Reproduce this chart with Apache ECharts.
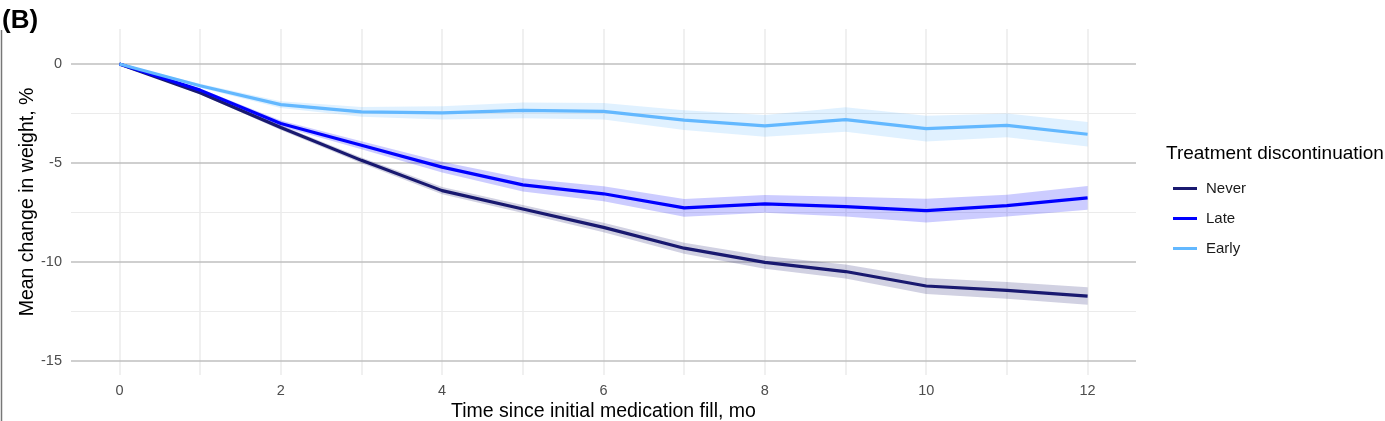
<!DOCTYPE html>
<html>
<head>
<meta charset="utf-8">
<script src="https://cdn.jsdelivr.net/npm/echarts@6/dist/echarts.min.js"></script>
<style>html,body{margin:0;padding:0;background:#fff;}#chart{width:1385px;height:421px;}</style>
</head>
<body>
<div id="chart"></div>
<script>
const months = [0,1,2,3,4,5,6,7,8,9,10,11,12];
const xTicks = [0,2,4,6,8,10,12];
const yTicks = [0,-5,-10,-15];
const yMinor = [-2.5,-7.5,-12.5];
const seriesNames = ['Never','Late','Early'];

const never   = [0,-1.45,-3.21,-4.87,-6.40,-7.33,-8.26,-9.31,-10.03,-10.49,-11.22,-11.44,-11.73];
const neverLo = [0,-1.53,-3.33,-5.02,-6.58,-7.53,-8.50,-9.59,-10.35,-10.84,-11.62,-11.86,-12.17];
const neverHi = [0,-1.37,-3.09,-4.72,-6.22,-7.13,-8.02,-9.03,-9.71,-10.14,-10.82,-11.02,-11.29];

const late    = [0,-1.32,-3.01,-4.11,-5.21,-6.11,-6.56,-7.27,-7.07,-7.21,-7.41,-7.16,-6.77];
const lateLo  = [0,-1.40,-3.16,-4.31,-5.48,-6.44,-6.94,-7.72,-7.52,-7.71,-8.01,-7.71,-7.37];
const lateHi  = [0,-1.24,-2.86,-3.91,-4.94,-5.78,-6.18,-6.82,-6.62,-6.71,-6.81,-6.61,-6.17];

const early   = [0,-1.10,-2.05,-2.42,-2.47,-2.34,-2.39,-2.84,-3.13,-2.81,-3.27,-3.10,-3.55];
const earlyLo = [0,-1.20,-2.22,-2.67,-2.80,-2.74,-2.81,-3.34,-3.68,-3.43,-3.92,-3.70,-4.17];
const earlyHi = [0,-1.00,-1.88,-2.17,-2.14,-1.94,-1.97,-2.34,-2.58,-2.19,-2.62,-2.50,-2.93];

const colors = {Never:'#191970', Late:'#0000FF', Early:'#63B8FF'};
const bandColors = {Never:'rgba(25,25,112,0.2)', Late:'rgba(0,0,255,0.2)', Early:'rgba(99,184,255,0.2)'};

const FONT = '"Liberation Sans", Arial, sans-serif';

function bandSeries(name, lo, hi) {
  return {
    type: 'custom',
    name: name + ' band',
    silent: true,
    z: 3,
    data: [[0, 0]],
    renderItem: function (params, api) {
      const pts = [];
      for (let i = 0; i < months.length; i++) pts.push(api.coord([months[i], hi[i]]));
      for (let i = months.length - 1; i >= 0; i--) pts.push(api.coord([months[i], lo[i]]));
      return { type: 'polygon', shape: { points: pts }, style: { fill: bandColors[name], stroke: null } };
    }
  };
}

function lineSeries(name, vals) {
  return {
    type: 'line',
    name: name,
    z: 4,
    data: months.map((m, i) => [m, vals[i]]),
    showSymbol: false,
    symbol: 'none',
    lineStyle: { color: colors[name], width: 3.2 },
    itemStyle: { color: colors[name] },
    emphasis: { disabled: true },
    animation: false
  };
}

const gridLines = []
  .concat(months.map(m => ({ xAxis: m, lineStyle: { color: '#ebebeb', width: 1.5, type: 'solid' } })))
  .concat(yMinor.map(v => ({ yAxis: v, lineStyle: { color: '#ebebeb', width: 1, type: 'solid' } })))
  .concat(yTicks.map(v => ({ yAxis: v, lineStyle: { color: '#bfbfbf', width: 1.5, type: 'solid' } })));

const chart = echarts.init(document.getElementById('chart'), null, { renderer: 'canvas' });
chart.setOption({
  animation: false,
  backgroundColor: '#ffffff',
  textStyle: { fontFamily: FONT },
  title: [{
    text: '(B)', left: -3, top: 3,
    textStyle: { fontSize: 26, fontWeight: 'bold', color: '#000', fontFamily: FONT }
  }],
  graphic: [
    { type: 'text', left: 1166, top: 144, style: { text: 'Treatment discontinuation', fontSize: 19, fill: '#000', fontFamily: FONT } },
    { type: 'line', shape: { x1: 1.5, y1: 30, x2: 1.5, y2: 421 }, style: { stroke: '#777', lineWidth: 1.5 } }
  ],
  legend: {
    data: seriesNames,
    orient: 'vertical',
    left: 1168, top: 176,
    icon: 'rect',
    itemWidth: 24, itemHeight: 3,
    itemGap: 15,
    textStyle: { fontSize: 15, color: '#1a1a1a', fontFamily: FONT, padding: [0, 0, 0, 4] },
    selectedMode: false
  },
  grid: { left: 71, right: 249, top: 29, bottom: 46, containLabel: false, outerBoundsMode: 'none' },
  xAxis: {
    type: 'value', min: -0.6, max: 12.6,
    name: 'Time since initial medication fill, mo', nameLocation: 'middle', nameGap: 27, nameMoveOverlap: false,
    nameTextStyle: { fontSize: 19.5, color: '#000', fontFamily: FONT },
    axisLine: { show: false }, axisTick: { show: false }, splitLine: { show: false },
    axisLabel: { customValues: xTicks, fontSize: 14.5, color: '#4d4d4d', margin: 8, fontFamily: FONT }
  },
  yAxis: {
    type: 'value', min: -15.72, max: 1.77,
    name: 'Mean change in weight, %', nameLocation: 'middle', nameGap: 33, nameMoveOverlap: false,
    nameTextStyle: { fontSize: 19.5, color: '#000', fontFamily: FONT },
    axisLine: { show: false }, axisTick: { show: false }, splitLine: { show: false },
    axisLabel: { customValues: yTicks, fontSize: 14.5, color: '#4d4d4d', margin: 9, fontFamily: FONT }
  },
  series: [
    {
      type: 'line', name: 'grid', data: [], z: 1, silent: true,
      markLine: { z: 1, silent: true, symbol: ['none', 'none'], label: { show: false }, animation: false, data: gridLines }
    },
    bandSeries('Never', neverLo, neverHi),
    bandSeries('Late', lateLo, lateHi),
    bandSeries('Early', earlyLo, earlyHi),
    lineSeries('Never', never),
    lineSeries('Late', late),
    lineSeries('Early', early)
  ]
});
</script>
</body>
</html>
